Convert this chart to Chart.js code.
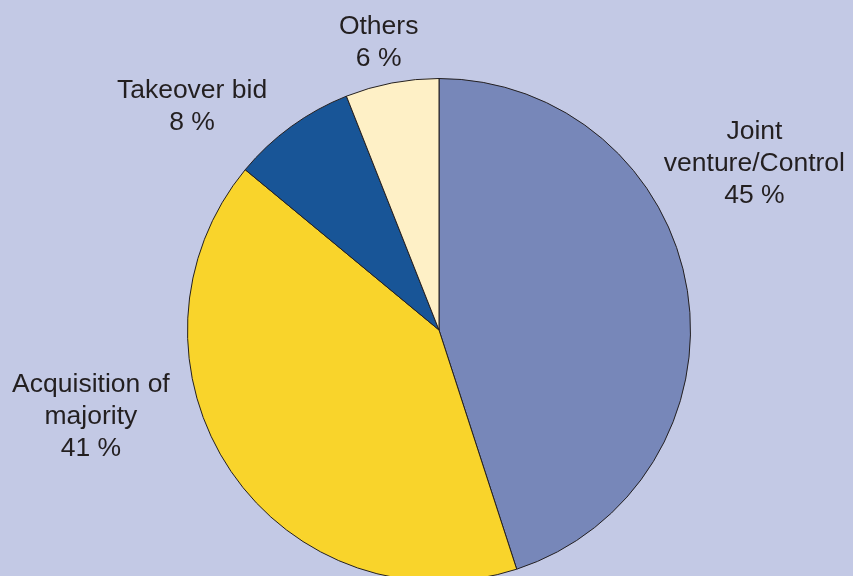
<!DOCTYPE html>
<html>
<head>
<meta charset="utf-8">
<script src="https://cdn.jsdelivr.net/npm/chart.js@4/dist/chart.umd.min.js"></script>
<style>
  html, body { margin: 0; padding: 0; background: #c3c9e5; }
  #wrap { width: 853px; height: 576px; overflow: hidden; position: relative; }
  canvas { display: block; }
</style>
</head>
<body>
<div id="wrap"><canvas id="c" width="853" height="600"></canvas></div>
<script>
// Data
const categories = ["Joint venture/Control", "Acquisition of majority", "Takeover bid", "Others"];
const shares = [45, 41, 8, 6];
const labelLines = [
  ["Joint", "venture/Control"],
  ["Acquisition of", "majority"],
  ["Takeover bid"],
  ["Others"]
];
const sliceColors = ["#7787b9", "#f9d42b", "#185597", "#fef0c6"];

// Label anchor positions relative to pie centre, in units of the pie radius
const labelAnchors = [
  { fx: 1.254, fy: -0.758 },
  { fx: -1.384, fy: 0.246 },
  { fx: -0.982, fy: -0.924 },
  { fx: -0.240, fy: -1.178 }
];

const labelPlugin = {
  id: 'outLabels',
  afterDatasetsDraw(chart) {
    const ctx = chart.ctx;
    const meta = chart.getDatasetMeta(0);
    ctx.save();
    ctx.font = '26.5px "Liberation Sans", Arial, sans-serif';
    ctx.fillStyle = '#231f20';
    ctx.textAlign = 'center';
    ctx.textBaseline = 'alphabetic';
    const lh = 32;
    meta.data.forEach((arc, i) => {
      const { x, y, outerRadius } = arc.getProps(['x', 'y', 'outerRadius'], true);
      const a = labelAnchors[i];
      const lx = x + a.fx * outerRadius;
      let ly = y + a.fy * outerRadius;
      const lines = labelLines[i].concat([shares[i] + ' %']);
      lines.forEach((t, k) => ctx.fillText(t, lx, ly + k * lh));
    });
    ctx.restore();
  }
};

new Chart(document.getElementById('c'), {
  type: 'pie',
  data: {
    labels: categories,
    datasets: [{
      data: shares,
      backgroundColor: sliceColors,
      borderColor: '#231f20',
      borderWidth: 1,
      hoverOffset: 0
    }]
  },
  options: {
    responsive: false,
    animation: false,
    events: [],
    layout: { padding: { top: 78, bottom: 18, left: 25, right: 0 } },
    plugins: { legend: { display: false }, tooltip: { enabled: false } }
  },
  plugins: [labelPlugin]
});
</script>
</body>
</html>
